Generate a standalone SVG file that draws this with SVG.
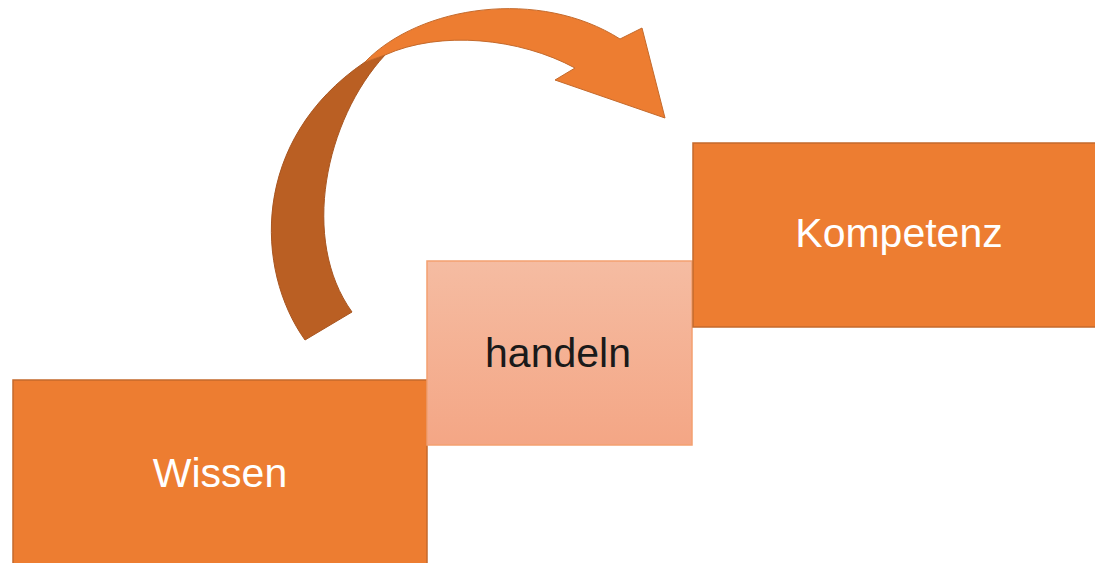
<svg xmlns="http://www.w3.org/2000/svg" width="1095" height="563" viewBox="0 0 1095 563">
<defs>
<style>
.box{fill:#ED7D31;stroke:#C46A2C;stroke-width:1.5}
.lbl{font-family:"Liberation Sans",Arial,sans-serif;font-size:41px;text-anchor:middle}
.w{fill:#FFFFFF}
.k{fill:#1A1A1A}
</style>
<linearGradient id="g" x1="0" y1="0" x2="0" y2="1">
<stop offset="0" stop-color="#F5BCA2"/>
<stop offset="1" stop-color="#F4A685"/>
</linearGradient>
</defs>
<rect width="1095" height="563" fill="#FFFFFF"/>
<g id="connectors">
<path d="M305,340 C255,270 250,140 365,62 L385,55 C325,120 300,240 352,312 Z" fill="#BA5F23" stroke="#A85520" stroke-width="1"/>
<path d="M365,62 C420,5 540,-12 620,39 L642,28 L665,118 L555,80 L575,68 C520,38 440,30 385,55 Z" fill="#ED7D31" stroke="#C46A2C" stroke-width="1"/>
</g>
<g id="wissen">
<rect class="box" x="13" y="380" width="414" height="190"/>
<text class="lbl w" x="220" y="487">Wissen</text>
</g>
<g id="handeln">
<rect x="427" y="261" width="265" height="184" fill="url(#g)" stroke="#F4A070" stroke-width="1.5"/>
<text class="lbl k" x="558" y="367">handeln</text>
</g>
<g id="kompetenz">
<rect class="box" x="693" y="143" width="410" height="184"/>
<text class="lbl w" x="899" y="247">Kompetenz</text>
</g>
</svg>
